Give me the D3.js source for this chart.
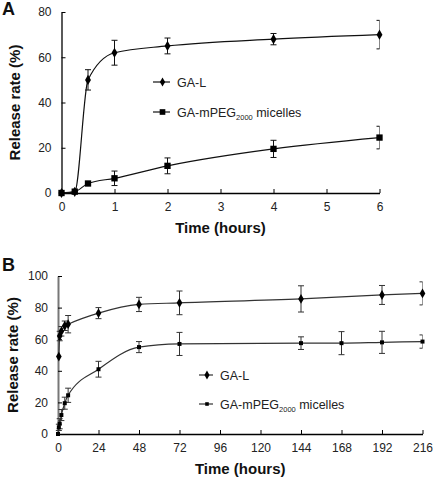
<!DOCTYPE html>
<html>
<head>
<meta charset="utf-8">
<script src="https://cdn.jsdelivr.net/npm/d3@7"></script>
<style>
  body { margin: 0; background: #fff; }
  text { font-family: "Liberation Sans", Arial, sans-serif; }
  .tick text { font-size: 12px; fill: #222; }
  .title { font-size: 15px; font-weight: bold; fill: #111; }
  .panel { font-size: 18px; font-weight: bold; fill: #111; }
  .leg { font-size: 12.5px; fill: #222; }
</style>
</head>
<body>
<svg id="chart"></svg>
<script>
// Panel A: first 6 hours
const hoursA = [0, 0.25, 0.5, 1, 2, 4, 6];
const galA = [0, 0.5, 50, 62, 65, 68, 70];
const galErrA = [0, 0, 4.5, 5.5, 3.5, 2.5, 6.3];
const micA = [0, 0.6, 4.2, 6.5, 12, 19.5, 24.5];
const micErrA = [0, 0, 0, 3.2, 3.5, 3.8, 5];

// Panel B: 216 hours
const hoursB = [0, 0.5, 1, 2, 4, 6, 24, 48, 72, 144, 192, 216];
const galB = [null, 49, 62, 65, 68.5, 69.5, 76.5, 82, 83, 85.5, 88, 89];
const galErrB = [0, 0, 3, 3, 3, 5.5, 3.5, 4.5, 7.5, 8.3, 6, 7.3];
const hoursMicB = [0, 0.5, 1, 2, 4, 6, 24, 48, 72, 144, 168, 192, 216];
const micB = [0, 4.2, 6.5, 12, 19.5, 24.5, 41, 55, 57, 57.5, 57.5, 58, 58.5];
const micErrB = [0, 2, 3.2, 3.5, 3.8, 4.5, 5, 3.5, 7.3, 4, 7.3, 7, 4.2];

const ticksYA = [0, 20, 40, 60, 80];
const ticksXA = [0, 1, 2, 3, 4, 5, 6];
const ticksYB = [0, 20, 40, 60, 80, 100];
const ticksXB = [0, 24, 48, 72, 96, 120, 144, 168, 192, 216];

const svg = d3.select("#chart").attr("width", 436).attr("height", 494);

function zip(xs, ys, es) {
    return xs.map((x, i) => ({ x: x, y: ys[i], e: es[i] })).filter(d => d.y !== null);
}

function panel(opt) {
    const x = d3.scaleLinear().domain(opt.xDomain).range([opt.left, opt.right]);
    const y = d3.scaleLinear().domain(opt.yDomain).range([opt.bottom, opt.top]);
    const g = svg.append("g");

    g.append("clipPath").attr("id", opt.id)
        .append("rect").attr("x", opt.left - 10).attr("y", 0)
        .attr("width", opt.right - opt.left + 10).attr("height", 494);

    // axes
    const ax = g.append("g").attr("transform", `translate(0,${opt.bottom})`)
        .call(d3.axisBottom(x).tickValues(opt.xTicks).tickFormat(d3.format("d"))
            .tickSizeInner(-4).tickSizeOuter(0).tickPadding(9));
    ax.select(".domain").attr("stroke", "#000").attr("stroke-width", 1.3);
    ax.selectAll(".tick line").attr("stroke", "#000");
    const ay = g.append("g").attr("transform", `translate(${opt.left},0)`)
        .call(d3.axisLeft(y).tickValues(opt.yTicks).tickFormat(d3.format("d"))
            .tickSizeInner(-4).tickSizeOuter(0).tickPadding(10));
    ay.select(".domain").attr("stroke", opt.yAxisColor).attr("stroke-width", opt.yAxisWidth);
    ay.selectAll(".tick line").attr("stroke", "#000");

    const series = [
        { data: opt.gal, shape: d3.symbolDiamond, size: opt.diamond },
        { data: opt.mic, shape: d3.symbolSquare, size: opt.square }
    ];
    const line = d3.line().x(d => x(d.x)).y(d => y(d.y)).curve(d3.curveMonotoneX);
    const plot = g.append("g").attr("clip-path", `url(#${opt.id})`);

    series.forEach(s => {
        plot.append("path").datum(s.data)
            .attr("fill", "none").attr("stroke", opt.lineColor).attr("stroke-width", 1.2)
            .attr("d", line);
        const eb = plot.selectAll(null).data(s.data.filter(d => d.e > 0)).enter().append("g")
            .attr("stroke", opt.lineColor).attr("stroke-width", 1);
        eb.append("line").attr("x1", d => x(d.x)).attr("x2", d => x(d.x))
            .attr("y1", d => y(d.y - d.e)).attr("y2", d => y(d.y + d.e));
        eb.append("line").attr("x1", d => x(d.x) - 3).attr("x2", d => x(d.x) + 3)
            .attr("y1", d => y(d.y - d.e)).attr("y2", d => y(d.y - d.e));
        eb.append("line").attr("x1", d => x(d.x) - 3).attr("x2", d => x(d.x) + 3)
            .attr("y1", d => y(d.y + d.e)).attr("y2", d => y(d.y + d.e));
        g.selectAll(null).data(s.data).enter().append("path")
            .attr("transform", d => `translate(${x(d.x)},${y(d.y)})`)
            .attr("d", d3.symbol().type(s.shape).size(s.size))
            .attr("fill", "#000");
    });

    // legend
    const labels = ["GA-L", "GA-mPEG"];
    series.forEach((s, i) => {
        const ly = opt.legY[i];
        g.append("line").attr("x1", opt.legX).attr("x2", opt.legX + opt.legW)
            .attr("y1", ly).attr("y2", ly).attr("stroke", opt.lineColor).attr("stroke-width", 1.2);
        g.append("path").attr("transform", `translate(${opt.legX + opt.legW / 2 + 1},${ly})`)
            .attr("d", d3.symbol().type(s.shape).size(s.size * 0.8)).attr("fill", "#000");
        const t = g.append("text").attr("class", "leg")
            .attr("x", opt.legX + opt.legW + 7).attr("y", ly + 4.5).text(labels[i]);
        if (i === 1) {
            t.append("tspan").attr("font-size", 7.5).attr("dy", 3).text("2000");
            t.append("tspan").attr("dy", -3).text(" micelles");
        }
    });

    svg.append("text").attr("class", "title").attr("text-anchor", "middle")
        .attr("transform", `translate(${opt.yTitleX},${(opt.top + opt.bottom) / 2}) rotate(-90)`)
        .text("Release rate (%)");
    svg.append("text").attr("class", "title").attr("text-anchor", "middle")
        .attr("x", (opt.left + opt.right) / 2).attr("y", opt.xTitleY).text("Time (hours)");
    svg.append("text").attr("class", "panel").attr("x", 2).attr("y", opt.letterY).text(opt.letter);
}

panel({
    id: "clipA", letter: "A", letterY: 15,
    xDomain: [0, 6], yDomain: [0, 80], left: 61.5, right: 379.5, top: 12, bottom: 193,
    xTicks: ticksXA, yTicks: ticksYA,
    gal: zip(hoursA, galA, galErrA), mic: zip(hoursA, micA, micErrA),
    diamond: 30, square: 40, lineColor: "#111", yAxisColor: "#000", yAxisWidth: 1.3,
    legX: 153, legW: 17, legY: [82, 112], yTitleX: 20, xTitleY: 233
});

panel({
    id: "clipB", letter: "B", letterY: 271,
    xDomain: [0, 216], yDomain: [0, 100], left: 58, right: 422.5, top: 276, bottom: 434,
    xTicks: ticksXB, yTicks: ticksYB,
    gal: zip(hoursB, galB, galErrB), mic: zip(hoursMicB, micB, micErrB),
    diamond: 28, square: 16, lineColor: "#333", yAxisColor: "#777", yAxisWidth: 2,
    legX: 199, legW: 14, legY: [375, 404], yTitleX: 18, xTitleY: 474
});
</script>
</body>
</html>
